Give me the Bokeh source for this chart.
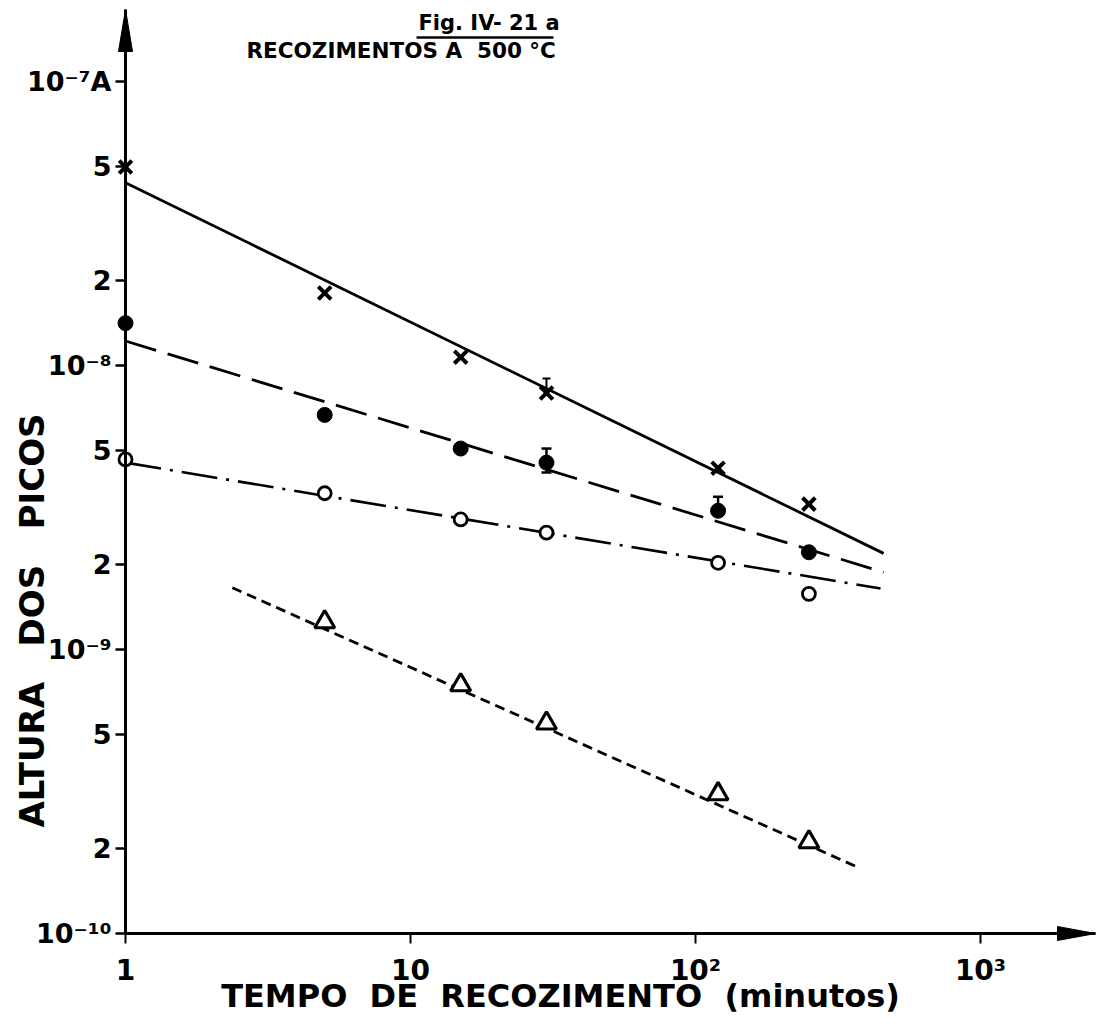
import math
from bokeh.plotting import figure
from bokeh.models import LogAxis, FixedTicker, Range1d, Label, ColumnDataSource, Whisker, TeeHead
from bokeh.embed import file_html
from bokeh.resources import INLINE

# ---------------- data ----------------
# annealing time (minutes) and peak height (A)
t_cross = [1, 5, 15, 30, 120, 250]
h_cross = [5.0e-8, 1.8e-8, 1.07e-8, 8.0e-9, 4.35e-9, 3.25e-9]
t_dot = [1, 5, 15, 30, 120, 250]
h_dot = [1.41e-8, 6.7e-9, 5.1e-9, 4.55e-9, 3.08e-9, 2.2e-9]
t_ring = [1, 5, 15, 30, 120, 250]
h_ring = [4.67e-9, 3.55e-9, 2.87e-9, 2.58e-9, 2.02e-9, 1.57e-9]
t_tri = [5, 15, 30, 120, 250]
h_tri = [1.25e-9, 7.5e-10, 5.5e-10, 3.1e-10, 2.1e-10]

# fitted straight lines (end points)
fit_cross_t = [1, 457]
fit_cross_h = [4.4e-8, 2.18e-9]
fit_dot_t = [1, 457]
fit_dot_h = [1.22e-8, 1.87e-9]
fit_ring_t = [1, 446]
fit_ring_h = [4.55e-9, 1.64e-9]
fit_tri_t = [2.37, 367]
fit_tri_h = [1.65e-9, 1.72e-10]

# error bars
err_dot_t = [30, 120]
err_dot_lo = [4.2e-9, 3.08e-9]
err_dot_hi = [5.1e-9, 3.45e-9]
err_cross_t = [30]
err_cross_lo = [8.0e-9]
err_cross_hi = [9.0e-9]

x_ticks = [1, 10, 100, 1000]
x_tick_labels = ["1", "10", "10²", "10³"]
y_ticks = [1e-10, 2e-10, 5e-10, 1e-9, 2e-9, 5e-9, 1e-8, 2e-8, 5e-8, 1e-7]
y_tick_labels = ["10⁻¹⁰", "2", "5", "10⁻⁹", "2", "5", "10⁻⁸", "2", "5", "10⁻⁷A"]

SP = " \u00a0"
title1 = "Fig. IV- 21 a"
title2 = "RECOZIMENTOS A \u00a0500 °C"
xlabel = SP.join(["TEMPO", "DE", "RECOZIMENTO", "(minutos)"])
ylabel = (SP + "\u00a0").join(["ALTURA", "DOS", "PICOS"])

# ---------------- layout helpers (picture pixel -> data) ----------------
W, H = 1096, 1015
X0, DX = 125, 285.0      # pixel x of t=1, px per decade
Y0, DY = 81, 284.0       # pixel y of 1e-7, px per decade


def X(px):
    return 10 ** ((px - X0) / DX)


def Y(py):
    return 10 ** (-7 - (py - Y0) / DY)


FONT = "DejaVu Sans"

p = figure(width=W, height=H, x_axis_type="log", y_axis_type="log",
           x_axis_location=None, y_axis_location=None,
           x_range=Range1d(X(0), X(W)), y_range=Range1d(Y(H), Y(0)),
           output_backend="svg", toolbar_location=None,
           min_border=0, min_border_left=0, min_border_right=0,
           min_border_top=0, min_border_bottom=0)
p.outline_line_color = None
p.grid.visible = False
p.background_fill_color = "white"
p.border_fill_color = "white"

y_top = Y(9)
x_right = X(W - 1)

# ---- axes (fixed at t=1 and h=1e-10) ----
yax = LogAxis(fixed_location=1, ticker=FixedTicker(ticks=y_ticks),
              bounds=(y_ticks[0], y_top))
yax.major_label_overrides = {v: s for v, s in zip(y_ticks, y_tick_labels)}
yax.axis_line_width = 3
yax.axis_line_color = "black"
yax.major_tick_line_width = 2.5
yax.major_tick_out = 10
yax.major_tick_in = 0
yax.minor_tick_out = 0
yax.minor_tick_in = 0
yax.major_label_standoff = 4
yax.major_label_text_font = FONT
yax.major_label_text_font_style = "bold"
yax.major_label_text_font_size = "27px"
yax.major_label_text_color = "black"
p.add_layout(yax, "left")

xax = LogAxis(fixed_location=y_ticks[0], ticker=FixedTicker(ticks=x_ticks),
              bounds=(x_ticks[0], x_right))
xax.major_label_overrides = {v: s for v, s in zip(x_ticks, x_tick_labels)}
xax.axis_line_width = 3
xax.axis_line_color = "black"
xax.major_tick_line_width = 2
xax.major_tick_out = 10
xax.major_tick_in = 0
xax.minor_tick_out = 0
xax.minor_tick_in = 0
xax.major_label_standoff = 10
xax.major_label_text_font = FONT
xax.major_label_text_font_style = "bold"
xax.major_label_text_font_size = "28px"
xax.major_label_text_color = "black"
p.add_layout(xax, "below")

# arrow heads of the axes
p.patch([X(X0 - 7), 1, X(X0 + 7)], [Y(9 + 42), y_top, Y(9 + 42)],
        color="black", line_width=1)
p.patch([X(W - 1 - 38), x_right, X(W - 1 - 38)],
        [Y(933 - 7), y_ticks[0], Y(933 + 7)], color="black", line_width=1)

# ---- fitted lines ----
p.line(fit_cross_t, fit_cross_h, line_color="black", line_width=2.8)
p.line(fit_dot_t, fit_dot_h, line_color="black", line_width=2.8, line_dash="32 12")
p.line(fit_ring_t, fit_ring_h, line_color="black", line_width=2.6, line_dash="36 9 3 9")
p.line(fit_tri_t, fit_tri_h, line_color="black", line_width=2.8, line_dash="10 6")

# ---- error bars ----
p.add_layout(Whisker(source=ColumnDataSource(dict(t=err_dot_t, lo=err_dot_lo, hi=err_dot_hi)),
                     base="t", lower="lo", upper="hi", line_width=2.5, line_color="black",
                     upper_head=TeeHead(size=10, line_width=2.5),
                     lower_head=TeeHead(size=10, line_width=2.5)))
p.add_layout(Whisker(source=ColumnDataSource(dict(t=err_cross_t, lo=err_cross_lo, hi=err_cross_hi)),
                     base="t", lower="lo", upper="hi", line_width=2, line_color="black",
                     upper_head=TeeHead(size=8, line_width=2), lower_head=None))

# ---- data points ----
p.scatter(t_cross, h_cross, marker="x", size=18, line_width=4, line_color="black")
p.scatter(t_dot, h_dot, marker="circle", size=15, fill_color="black", line_color="black")
p.scatter(t_ring, h_ring, marker="circle", size=13, fill_color="white",
          line_color="black", line_width=2.8)
p.scatter(t_tri, h_tri, marker="triangle", size=20, fill_color="white",
          line_color="black", line_width=3.2)

# ---- texts ----
p.add_layout(Label(x=X(418), y=Y(22), text=title1, text_font=FONT, text_font_style="bold",
                   text_font_size="21px", text_baseline="middle", text_align="left",
                   text_color="black"))
p.segment(x0=[X(416)], y0=[Y(37)], x1=[X(553)], y1=[Y(37)], line_width=2.5, line_color="black")
p.add_layout(Label(x=X(246), y=Y(50), text=title2, text_font=FONT, text_font_style="bold",
                   text_font_size="21.5px", text_baseline="middle", text_align="left",
                   text_color="black"))
p.add_layout(Label(x=X(560), y=Y(995), text=xlabel, text_font=FONT, text_font_style="bold",
                   text_font_size="32px", text_baseline="middle", text_align="center",
                   text_color="black"))
p.add_layout(Label(x=X(31), y=Y(620), text=ylabel, text_font=FONT, text_font_style="bold",
                   text_font_size="34px", text_baseline="middle", text_align="center",
                   angle=math.pi / 2, text_color="black"))

open("out.html", "w").write(file_html(p, INLINE))
